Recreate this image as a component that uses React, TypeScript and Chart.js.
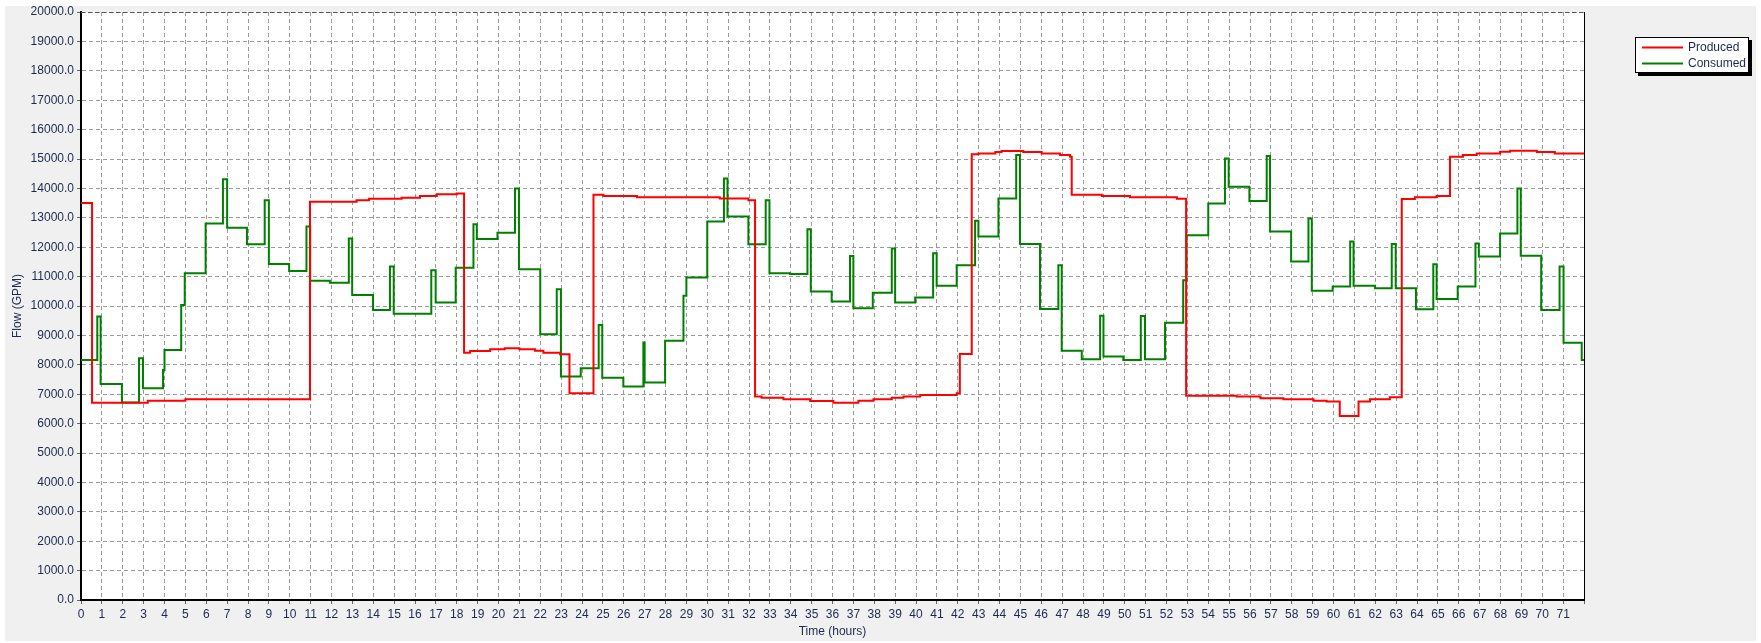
import { useEffect, useRef } from 'react';
import { Chart, registerables } from 'chart.js';

Chart.register(...registerables);

// Step data: each value holds from its hour until the next hour
const producedHours = [0, 0.53, 3.2, 5.0, 10.97, 13.2, 13.8, 15.36, 16.24, 17.04, 18.0, 18.35, 18.64, 19.6, 20.3, 21.0, 21.75, 22.15, 22.95, 23.4, 24.55, 25.03, 26.63, 30.6, 31.97, 32.29, 32.6, 33.65, 34.93, 36.04, 37.24, 37.96, 38.84, 39.4, 40.2, 41.95, 42.1, 42.67, 42.99, 43.8, 44.1, 45.14, 46.02, 46.9, 47.38, 47.46, 48.9, 50.25, 52.5, 52.94, 55.36, 56.5, 57.6, 59.04, 59.67, 60.3, 61.2, 61.75, 62.7, 63.27, 63.9, 64.94, 65.58, 66.2, 66.86, 67.98, 68.46, 69.74, 70.6, 72];
const producedFlow = [13500, 6710, 6780, 6830, 13550, 13600, 13650, 13680, 13740, 13800, 13830, 8410, 8470, 8530, 8560, 8530, 8480, 8410, 8360, 7030, 13780, 13740, 13700, 13660, 13600, 6920, 6880, 6830, 6770, 6710, 6780, 6830, 6880, 6920, 6970, 7030, 8370, 15160, 15190, 15240, 15270, 15240, 15190, 15140, 15080, 13780, 13740, 13700, 13650, 6950, 6920, 6860, 6830, 6780, 6750, 6260, 6750, 6830, 6900, 13640, 13700, 13740, 15080, 15140, 15190, 15250, 15280, 15240, 15190, 15170];

const consumedHours = [0, 0.78, 0.94, 1.96, 2.78, 2.97, 3.93, 4.0, 4.8, 4.97, 5.97, 6.8, 7.0, 7.95, 8.8, 9.0, 9.97, 10.8, 10.98, 11.92, 12.83, 12.99, 13.99, 14.8, 14.98, 16.78, 16.99, 17.95, 18.8, 18.96, 19.95, 20.79, 20.98, 22.0, 22.79, 22.99, 23.94, 24.8, 24.97, 25.98, 26.94, 27.0, 27.98, 28.86, 29.0, 30.0, 30.8, 30.97, 31.97, 32.8, 32.98, 33.97, 34.8, 34.96, 35.96, 36.84, 37.0, 37.93, 38.84, 39.0, 39.96, 40.82, 40.99, 41.95, 42.83, 42.99, 43.95, 44.8, 44.98, 45.94, 46.82, 46.98, 47.94, 48.82, 48.98, 49.93, 50.77, 50.97, 51.93, 52.8, 52.96, 54.0, 54.8, 54.98, 55.97, 56.8, 56.96, 57.97, 58.8, 58.96, 59.96, 60.8, 60.96, 61.99, 62.79, 62.98, 63.95, 64.78, 64.94, 65.95, 66.8, 66.96, 67.98, 68.81, 68.97, 69.95, 70.83, 71.02, 71.89, 72];
const consumedFlow = [8160, 9640, 7350, 6720, 8220, 7200, 7820, 8500, 10030, 11110, 12810, 14310, 12660, 12100, 13600, 11430, 11190, 12700, 10860, 10790, 12300, 10370, 9860, 11340, 9740, 11220, 10120, 11300, 12780, 12280, 12490, 14000, 11250, 9040, 10570, 7600, 7880, 9350, 7560, 7260, 8760, 7400, 8820, 10350, 10970, 12870, 14340, 13040, 12100, 13600, 11110, 11090, 12610, 10490, 10150, 11700, 9920, 10450, 11960, 10120, 10290, 11790, 10690, 11390, 12900, 12360, 13660, 15140, 12110, 9900, 11390, 8480, 8190, 9670, 8280, 8160, 9660, 8190, 9430, 10880, 12410, 13490, 15020, 14060, 13570, 15100, 12530, 11510, 12980, 10520, 10660, 12190, 10690, 10600, 12110, 10600, 9890, 11420, 10240, 10660, 12130, 11680, 12470, 14000, 11710, 9860, 11340, 8750, 8160, 8160];

const seriesNames = ['Produced', 'Consumed'];
const seriesColors = ['#ff0000', '#008000'];
const xTitle = 'Time (hours)';
const yTitle = 'Flow (GPM)';
const xMin = 0;
const xMax = 72;
const yMin = 0;
const yMax = 20000;
const yStep = 1000;

const FONT = "'Liberation Sans', Arial, sans-serif";
const TEXT = '#1e2850';

const framePlugin = {
  id: 'frame',
  beforeDraw(chart: any) {
    const { ctx, width, height, chartArea } = chart;
    ctx.save();
    ctx.fillStyle = '#ffffff';
    ctx.fillRect(0, 0, width, height);
    ctx.fillStyle = '#f0f0f0';
    ctx.fillRect(5, 6, width - 10, height - 8);
    ctx.fillStyle = '#ffffff';
    ctx.fillRect(chartArea.left, chartArea.top, chartArea.right - chartArea.left, chartArea.bottom - chartArea.top);
    ctx.restore();
  },
  afterDraw(chart: any) {
    const { ctx, chartArea } = chart;
    ctx.save();
    // right border
    ctx.strokeStyle = '#000000';
    ctx.lineWidth = 1;
    ctx.beginPath();
    ctx.moveTo(chartArea.right + 0.5, chartArea.top);
    ctx.lineTo(chartArea.right + 0.5, chartArea.bottom);
    ctx.stroke();
    // top dashed border
    ctx.strokeStyle = '#555555';
    ctx.setLineDash([4, 3]);
    ctx.beginPath();
    ctx.moveTo(chartArea.left, chartArea.top + 0.5);
    ctx.lineTo(chartArea.right, chartArea.top + 0.5);
    ctx.stroke();
    ctx.setLineDash([]);

    // legend box with shadow
    const bx = chartArea.right + 51;
    const by = 37;
    const bw = 114;
    const bh = 36;
    ctx.fillStyle = '#000000';
    ctx.fillRect(bx + 3, by + 3, bw, bh);
    ctx.fillStyle = '#ffffff';
    ctx.fillRect(bx, by, bw, bh);
    ctx.strokeStyle = '#000000';
    ctx.lineWidth = 1;
    ctx.strokeRect(bx + 0.5, by + 0.5, bw - 1, bh - 1);
    const datasets = chart.data.datasets;
    ctx.font = `12px ${FONT}`;
    ctx.textBaseline = 'middle';
    ctx.textAlign = 'left';
    datasets.forEach((ds: any, i: number) => {
      const ly = by + 10.5 + i * 16;
      ctx.strokeStyle = ds.borderColor;
      ctx.lineWidth = 2;
      ctx.beginPath();
      ctx.moveTo(bx + 7, ly);
      ctx.lineTo(bx + 48, ly);
      ctx.stroke();
      ctx.fillStyle = TEXT;
      ctx.fillText(ds.label, bx + 53, ly + 0.5);
    });
    ctx.restore();
  },
};

function toPoints(hours: number[], values: number[]) {
  return hours.map((h, i) => ({ x: h, y: values[i] }));
}

export default function App() {
  const canvasRef = useRef<HTMLCanvasElement | null>(null);

  useEffect(() => {
    const canvas = canvasRef.current;
    if (!canvas) return;
    const chart = new Chart(canvas, {
      type: 'line',
      data: {
        datasets: [
          {
            label: seriesNames[0],
            data: toPoints(producedHours, producedFlow),
            borderColor: seriesColors[0],
            backgroundColor: seriesColors[0],
            borderWidth: 2,
            pointRadius: 0,
            stepped: 'before',
            fill: false,
          },
          {
            label: seriesNames[1],
            data: toPoints(consumedHours, consumedFlow),
            borderColor: seriesColors[1],
            backgroundColor: seriesColors[1],
            borderWidth: 2,
            pointRadius: 0,
            stepped: 'before',
            fill: false,
          },
        ],
      },
      options: {
        responsive: false,
        animation: false,
        events: [],
        layout: { padding: { left: 0, top: 12, right: 177, bottom: 0 } },
        plugins: {
          legend: { display: false },
          tooltip: { enabled: false },
        },
        scales: {
          x: {
            type: 'linear',
            min: xMin,
            max: xMax,
            afterFit(scale: any) {
              scale.height = 43;
            },
            ticks: {
              stepSize: 1,
              autoSkip: false,
              maxRotation: 0,
              padding: 3,
              color: TEXT,
              font: { family: FONT, size: 12 },
              callback: (v: any) => (Number(v) === xMax ? '' : String(v)),
            },
            grid: {
              color: '#9a9a9a',
              lineWidth: 1,
              tickColor: '#666666',
              tickLength: 4,
            },
            border: { display: true, color: '#000000', width: 2, dash: [4, 3] },
            title: {
              display: true,
              text: xTitle,
              color: TEXT,
              font: { family: FONT, size: 12 },
              padding: { top: 0, bottom: 4 },
            },
          },
          y: {
            type: 'linear',
            min: yMin,
            max: yMax,
            afterFit(scale: any) {
              scale.width = 81;
            },
            ticks: {
              stepSize: yStep,
              autoSkip: false,
              padding: 3,
              color: TEXT,
              font: { family: FONT, size: 12 },
              callback: (v: any) => Number(v).toFixed(1),
            },
            grid: {
              color: '#9a9a9a',
              lineWidth: 1,
              tickColor: '#666666',
              tickLength: 4,
            },
            border: { display: true, color: '#000000', width: 2, dash: [4, 3] },
            title: {
              display: true,
              text: yTitle,
              color: TEXT,
              font: { family: FONT, size: 12 },
              padding: { top: 10, bottom: 0 },
            },
          },
        },
      },
      plugins: [framePlugin],
    } as any);
    return () => chart.destroy();
  }, []);

  return (
    <div style={{ position: 'fixed', left: 0, top: 0, width: 1761, height: 643 }}>
      <canvas ref={canvasRef} width={1761} height={643} style={{ display: 'block' }} />
    </div>
  );
}
